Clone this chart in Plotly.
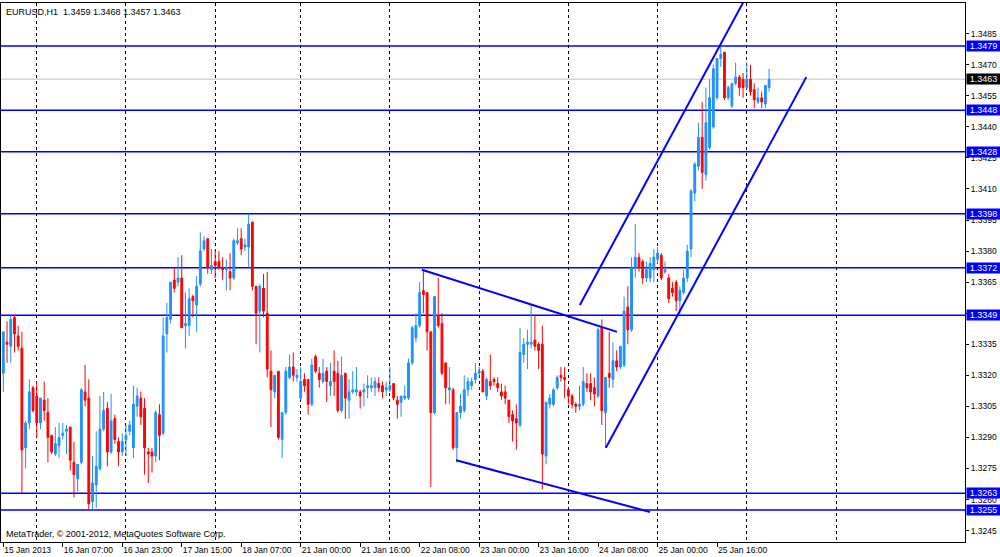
import plotly.graph_objects as go

# ---------------- data (EURUSD H1) ----------------
open_ = [1.3321,1.3336,1.3334,1.3348,1.3339,1.3333,1.3285,1.3297,1.3314,1.3310,
         1.3297,1.3308,1.3302,1.3291,1.3282,1.3286,1.3291,1.3293,1.3295,1.3278,
         1.3270,1.3278,1.3312,1.3309,1.3259,1.3267,1.3275,1.3294,1.3304,1.3283,
         1.3299,1.3288,1.3283,1.3289,1.3293,1.3285,1.3305,1.3309,1.3304,1.3283,
         1.3283,1.3281,1.3301,1.3292,1.3340,1.3347,1.3366,1.3365,1.3367,1.3344,
         1.3344,1.3358,1.3354,1.3364,1.3381,1.3386,1.3371,1.3375,1.3375,1.3372,
         1.3371,1.3370,1.3367,1.3384,1.3386,1.3382,1.3382,1.3394,1.3363,1.3351,
         1.3362,1.3350,1.3322,1.3312,1.3322,1.3289,1.3302,1.3319,1.3324,1.3319,
         1.3309,1.3318,1.3318,1.3306,1.3329,1.3321,1.3317,1.3322,1.3315,1.3322,
         1.3321,1.3303,1.3321,1.3308,1.3312,1.3312,1.3312,1.3312,1.3314,1.3314,
         1.3314,1.3316,1.3315,1.3313,1.3313,1.3316,1.3308,1.3307,1.3309,1.3309,
         1.3326,1.3338,1.3344,1.3361,1.3360,1.3341,1.3302,1.3349,1.3345,1.3326,
         1.3313,1.3313,1.3285,1.3302,1.3303,1.3313,1.3315,1.3318,1.3321,1.3322,
         1.3310,1.3317,1.3318,1.3316,1.3312,1.3312,1.3308,1.3301,1.3299,1.3296,
         1.3330,1.3335,1.3335,1.3337,1.3335,1.3335,1.3281,1.3306,1.3306,1.3314,
         1.3320,1.3319,1.3313,1.3310,1.3306,1.3305,1.3306,1.3316,1.3316,1.3314,
         1.3310,1.3343,1.3302,1.3321,1.3318,1.3327,1.3324,1.3325,1.3353,1.3342,
         1.3372,1.3377,1.3375,1.3367,1.3367,1.3371,1.3376,1.3378,1.3370,1.3367,
         1.3362,1.3365,1.3356,1.3360,1.3367,1.3381,1.3408,1.3421,1.3435,1.3417,
         1.3430,1.3440,1.3454,1.3473,1.3476,1.3454,1.3450,1.3461,1.3464,1.3463,
         1.3459,1.3463,1.3458,1.3452,1.3454,1.3451,1.3459]
high = [1.3341,1.3346,1.3349,1.3349,1.3344,1.3341,1.3298,1.3318,1.3315,1.3317,
        1.3309,1.3317,1.3309,1.3291,1.3295,1.3297,1.3297,1.3296,1.3295,1.3288,
        1.3277,1.3314,1.3325,1.3318,1.3281,1.3293,1.3310,1.3312,1.3307,1.3311,
        1.3301,1.3290,1.3292,1.3296,1.3298,1.3315,1.3314,1.3312,1.3309,1.3285,
        1.3285,1.3303,1.3306,1.3348,1.3355,1.3365,1.3372,1.3377,1.3378,1.3360,
        1.3362,1.3359,1.3368,1.3389,1.3387,1.3386,1.3381,1.3381,1.3380,1.3377,
        1.3376,1.3379,1.3386,1.3391,1.3391,1.3386,1.3398,1.3394,1.3363,1.3364,
        1.3369,1.3370,1.3332,1.3320,1.3322,1.3302,1.3324,1.3330,1.3331,1.3323,
        1.3324,1.3321,1.3318,1.3328,1.3330,1.3324,1.3328,1.3324,1.3326,1.3332,
        1.3327,1.3329,1.3321,1.3318,1.3322,1.3324,1.3313,1.3316,1.3320,1.3319,
        1.3319,1.3319,1.3317,1.3317,1.3324,1.3316,1.3310,1.3310,1.3315,1.3328,
        1.3344,1.3350,1.3365,1.3371,1.3360,1.3341,1.3358,1.3367,1.3350,1.3326,
        1.3324,1.3314,1.3302,1.3311,1.3320,1.3319,1.3319,1.3326,1.3324,1.3323,
        1.3319,1.3330,1.3319,1.3319,1.3316,1.3315,1.3308,1.3303,1.3306,1.3343,
        1.3338,1.3342,1.3354,1.3349,1.3336,1.3344,1.3307,1.3311,1.3314,1.3320,
        1.3324,1.3324,1.3314,1.3311,1.3307,1.3315,1.3324,1.3321,1.3321,1.3319,
        1.3343,1.3347,1.3319,1.3341,1.3336,1.3332,1.3334,1.3358,1.3363,1.3377,
        1.3393,1.3379,1.3376,1.3375,1.3377,1.3381,1.3382,1.3379,1.3375,1.3369,
        1.3365,1.3366,1.3363,1.3371,1.3383,1.3410,1.3423,1.3442,1.3452,1.3459,
        1.3463,1.3470,1.3473,1.3480,1.3476,1.3460,1.3461,1.3471,1.3465,1.3466,
        1.3471,1.3470,1.3461,1.3459,1.3457,1.3460,1.3468]
low = [1.3312,1.3326,1.3326,1.3331,1.3332,1.3263,1.3275,1.3294,1.3302,1.3290,
       1.3294,1.3298,1.3278,1.3282,1.3281,1.3280,1.3289,1.3282,1.3274,1.3261,
       1.3264,1.3277,1.3305,1.3255,1.3255,1.3256,1.3274,1.3293,1.3276,1.3282,
       1.3287,1.3276,1.3281,1.3281,1.3291,1.3280,1.3300,1.3296,1.3272,1.3268,
       1.3273,1.3278,1.3279,1.3291,1.3331,1.3345,1.3360,1.3363,1.3343,1.3333,
       1.3339,1.3348,1.3341,1.3363,1.3380,1.3369,1.3369,1.3367,1.3371,1.3366,
       1.3361,1.3361,1.3366,1.3383,1.3378,1.3380,1.3372,1.3361,1.3335,1.3331,
       1.3348,1.3319,1.3295,1.3309,1.3289,1.3280,1.3301,1.3318,1.3317,1.3317,
       1.3308,1.3312,1.3301,1.3305,1.3321,1.3314,1.3316,1.3307,1.3310,1.3310,
       1.3302,1.3302,1.3299,1.3299,1.3311,1.3310,1.3304,1.3305,1.3309,1.3312,
       1.3310,1.3312,1.3309,1.3310,1.3312,1.3308,1.3299,1.3300,1.3308,1.3308,
       1.3325,1.3336,1.3343,1.3350,1.3332,1.3266,1.3301,1.3343,1.3320,1.3306,
       1.3306,1.3284,1.3278,1.3299,1.3302,1.3310,1.3313,1.3316,1.3319,1.3312,
       1.3308,1.3313,1.3315,1.3312,1.3308,1.3306,1.3297,1.3288,1.3284,1.3295,
       1.3326,1.3323,1.3333,1.3332,1.3323,1.3265,1.3277,1.3304,1.3305,1.3313,
       1.3317,1.3309,1.3306,1.3304,1.3302,1.3303,1.3305,1.3312,1.3308,1.3305,
       1.3309,1.3296,1.3285,1.3314,1.3314,1.3322,1.3323,1.3324,1.3335,1.3341,
       1.3367,1.3370,1.3364,1.3365,1.3365,1.3365,1.3374,1.3366,1.3369,1.3355,
       1.3358,1.3351,1.3349,1.3359,1.3365,1.3377,1.3404,1.3419,1.3410,1.3414,
       1.3429,1.3439,1.3453,1.3469,1.3453,1.3453,1.3449,1.3460,1.3455,1.3454,
       1.3458,1.3455,1.3449,1.3451,1.3449,1.3449,1.3457]
close = [1.3341,1.3335,1.3347,1.3340,1.3334,1.3284,1.3297,1.3312,1.3303,1.3297,
         1.3309,1.3303,1.3290,1.3283,1.3287,1.3290,1.3292,1.3294,1.3279,1.3272,
         1.3277,1.3313,1.3308,1.3258,1.3268,1.3276,1.3294,1.3303,1.3283,1.3298,
         1.3289,1.3283,1.3288,1.3291,1.3296,1.3306,1.3310,1.3300,1.3285,1.3282,
         1.3281,1.3302,1.3291,1.3339,1.3348,1.3365,1.3362,1.3367,1.3343,1.3345,
         1.3357,1.3356,1.3363,1.3380,1.3385,1.3372,1.3373,1.3373,1.3372,1.3371,
         1.3372,1.3367,1.3385,1.3385,1.3381,1.3383,1.3393,1.3363,1.3350,1.3363,
         1.3351,1.3323,1.3313,1.3320,1.3290,1.3302,1.3322,1.3324,1.3320,1.3320,
         1.3317,1.3315,1.3306,1.3325,1.3322,1.3318,1.3321,1.3317,1.3317,1.3317,
         1.3303,1.3320,1.3309,1.3312,1.3313,1.3313,1.3310,1.3313,1.3315,1.3315,
         1.3317,1.3314,1.3312,1.3314,1.3315,1.3309,1.3306,1.3310,1.3310,1.3326,
         1.3343,1.3344,1.3360,1.3359,1.3341,1.3302,1.3358,1.3344,1.3321,1.3314,
         1.3314,1.3285,1.3302,1.3305,1.3313,1.3317,1.3317,1.3321,1.3322,1.3312,
         1.3318,1.3315,1.3317,1.3314,1.3310,1.3309,1.3300,1.3298,1.3297,1.3331,
         1.3335,1.3336,1.3336,1.3334,1.3332,1.3282,1.3307,1.3309,1.3313,1.3319,
         1.3319,1.3318,1.3310,1.3306,1.3305,1.3306,1.3317,1.3314,1.3312,1.3311,
         1.3342,1.3303,1.3319,1.3319,1.3327,1.3324,1.3334,1.3351,1.3342,1.3372,
         1.3377,1.3372,1.3367,1.3371,1.3374,1.3377,1.3379,1.3367,1.3371,1.3357,
         1.3360,1.3356,1.3361,1.3367,1.3380,1.3409,1.3422,1.3435,1.3418,1.3442,
         1.3454,1.3468,1.3473,1.3475,1.3454,1.3459,1.3461,1.3464,1.3459,1.3459,
         1.3463,1.3457,1.3453,1.3454,1.3452,1.3460,1.3463]

bar_index = list(range(len(close)))

# time-axis labels (every 16 hourly bars)
tick_bars = [0, 16, 32, 48, 64, 80, 96, 112, 128, 144, 160, 176, 192]
tick_labels = ["15 Jan 2013", "16 Jan 07:00", "16 Jan 23:00", "17 Jan 15:00",
               "18 Jan 07:00", "21 Jan 00:00", "21 Jan 16:00", "22 Jan 08:00",
               "23 Jan 00:00", "23 Jan 16:00", "24 Jan 08:00", "25 Jan 00:00",
               "25 Jan 16:00"]
# day separators (bars at 00:00)
day_bars = [9, 33, 57, 80, 104, 128, 152, 176, 200, 224]

price_ticks = [1.3245, 1.3260, 1.3275, 1.3290, 1.3305, 1.3320, 1.3335, 1.3350,
               1.3365, 1.3380, 1.3395, 1.3410, 1.3425, 1.3440, 1.3455, 1.3470,
               1.3485, 1.3500]

# horizontal support / resistance levels
levels = [1.3479, 1.3448, 1.3428, 1.3398, 1.3372, 1.3349, 1.3263, 1.3255]

# trend lines: (bar0, price0, bar1, price1)
trend_lines = [
    (112.6, 1.3371, 165.1, 1.3341),
    (121.8, 1.3279, 174.0, 1.3254),
    (155.1, 1.3354, 199.0, 1.3500),
    (162.1, 1.3285, 216.0, 1.3464),
]

symbol = "EURUSD,H1"
copyright_text = "MetaTrader, © 2001-2012, MetaQuotes Software Corp."

# ---------------- figure ----------------
FONT = "Liberation Sans"
FS = 8.5
BLUE_C = "#1E90FF"
RED_C = "#FF0000"
LEVEL_C = "#0000FF"

fig = go.Figure()

fig.add_trace(go.Candlestick(
    x=bar_index, open=open_, high=high, low=low, close=close,
    increasing=dict(line=dict(color=BLUE_C, width=1), fillcolor=BLUE_C),
    decreasing=dict(line=dict(color=RED_C, width=1), fillcolor=RED_C),
    whiskerwidth=0, hoverinfo="skip", showlegend=False,
))

for b0, p0, b1, p1 in trend_lines:
    fig.add_trace(go.Scatter(x=[b0, b1], y=[p0, p1], mode="lines",
                             line=dict(color=LEVEL_C, width=2),
                             hoverinfo="skip", showlegend=False))

shapes = []
annotations = []
for lv in levels:
    shapes.append(dict(type="line", xref="paper", x0=0, x1=1, yref="y",
                       y0=lv, y1=lv, line=dict(color=LEVEL_C, width=1.5),
                       layer="below"))
    annotations.append(dict(xref="paper", x=1, xanchor="left", xshift=1,
                            yref="y", y=lv, yanchor="middle",
                            text=f"{lv:.4f}", showarrow=False,
                            bgcolor=LEVEL_C, borderpad=0, width=33,
                            font=dict(family=FONT, size=FS + 0.5, color="white")))

last = close[-1]
shapes.append(dict(type="line", xref="paper", x0=0, x1=1, yref="y",
                   y0=last, y1=last, line=dict(color="#C0C0C0", width=1),
                   layer="below"))
annotations.append(dict(xref="paper", x=1, xanchor="left", xshift=1,
                        yref="y", y=last, yanchor="middle",
                        text=f"{last:.4f}", showarrow=False,
                        bgcolor="black", borderpad=0, width=33,
                        font=dict(family=FONT, size=FS + 0.5, color="white")))

title_txt = (f"{symbol}\u00a0\u00a0{open_[-1]:.4f} {high[-1]:.4f} "
             f"{low[-1]:.4f} {close[-1]:.4f}")
annotations.append(dict(xref="paper", yref="paper", x=0, y=1,
                        xanchor="left", yanchor="top", xshift=3, yshift=-2,
                        text=title_txt, showarrow=False,
                        font=dict(family=FONT, size=FS + 0.5, color="black")))
annotations.append(dict(xref="paper", yref="paper", x=0, y=0,
                        xanchor="left", yanchor="bottom", xshift=3, yshift=1,
                        text=copyright_text, showarrow=False,
                        font=dict(family=FONT, size=FS + 0.5, color="black")))

fig.update_layout(
    width=1000, height=557,
    margin=dict(l=1, r=35, t=3, b=15, autoexpand=False),
    paper_bgcolor="white", plot_bgcolor="white",
    showlegend=False,
    shapes=shapes, annotations=annotations,
    font=dict(family=FONT, size=FS, color="black"),
    xaxis=dict(
        range=[-0.62, 258.7], rangeslider=dict(visible=False),
        automargin=False,
        tickmode="array", tickvals=tick_bars, ticktext=tick_labels,
        tickangle=0,
        ticks="outside", ticklen=4, tickcolor="black",
        ticklabelposition="outside right",
        showgrid=False, zeroline=False,
        showline=True, mirror=True, linecolor="black", linewidth=1,
        minor=dict(tickmode="array", tickvals=day_bars, showgrid=True,
                   griddash="3px,3px", gridcolor="black", gridwidth=1,
                   ticks=""),
        tickfont=dict(family=FONT, size=FS, color="black"),
    ),
    yaxis=dict(
        side="right", range=[1.32395, 1.34998],
        automargin=False,
        tickmode="array", tickvals=price_ticks,
        ticktext=[f"{t:.4f}" for t in price_ticks],
        ticks="outside", ticklen=3, tickcolor="black",
        showgrid=False, zeroline=False,
        showline=True, mirror=True, linecolor="black", linewidth=1,
        tickfont=dict(family=FONT, size=FS, color="black"),
    ),
)

fig.write_html(
    "out.html",
    config={"displayModeBar": False},
    post_script=("document.body.style.margin='0';"
                 "document.body.style.padding='0';"
                 "document.body.style.overflow='hidden';"),
)
